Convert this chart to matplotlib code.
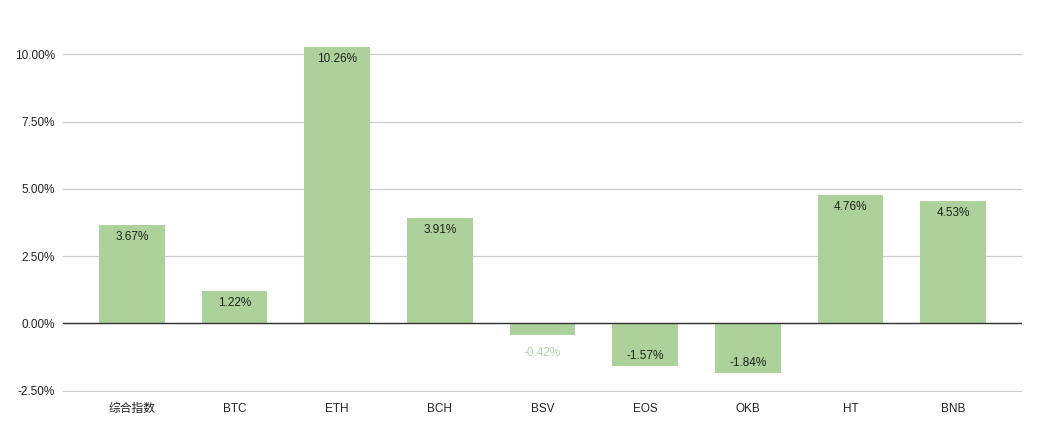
import matplotlib.pyplot as plt
from matplotlib.ticker import FuncFormatter

plt.rcParams['font.family'] = ['Liberation Sans', 'Noto Sans CJK SC', 'DejaVu Sans']

# --- DATA ---
categories = ['综合指数', 'BTC', 'ETH', 'BCH', 'BSV', 'EOS', 'OKB', 'HT', 'BNB']
changes = [3.67, 1.22, 10.26, 3.91, -0.42, -1.57, -1.84, 4.76, 4.53]
yticks = [-2.5, 0, 2.5, 5, 7.5, 10]

BAR_COLOR = '#acd19b'

fig = plt.figure(figsize=(10.38, 4.33), dpi=100)
ax = fig.add_axes([0.0607, 0.095, 0.924, 0.842])
ax.set_axisbelow(True)

x = range(len(categories))
ax.bar(x, changes, width=0.64, color=BAR_COLOR, zorder=2)

# value labels
for i, v in enumerate(changes):
    if v >= 0:
        ax.annotate(f"{v:.2f}%", (i, v), xytext=(0, -12), textcoords='offset pixels',
                    ha='center', va='center', fontsize=8.5, color='#222222', zorder=4)
    elif v > -1:
        ax.annotate(f"{v:.2f}%", (i, v), xytext=(0, -18), textcoords='offset pixels',
                    ha='center', va='center', fontsize=8.5, color='#b8d3a8', zorder=4)
    else:
        ax.annotate(f"{v:.2f}%", (i, v), xytext=(0, 10), textcoords='offset pixels',
                    ha='center', va='center', fontsize=8.5, color='#222222', zorder=4)

ax.set_xlim(-0.67, len(categories) - 0.33)
ax.set_ylim(-2.54, 11.0)
ax.set_yticks(yticks)
ax.yaxis.set_major_formatter(FuncFormatter(lambda v, p: f"{v:.2f}%"))
ax.set_xticks(list(x))
ax.set_xticklabels(categories)

ax.grid(axis='y', color='#cccccc', linewidth=0.9)
ax.axhline(0, color='#333333', linewidth=1.0, zorder=3)
for s in ax.spines.values():
    s.set_visible(False)
ax.tick_params(axis='both', length=0, labelsize=8.5, colors='#222222')
ax.tick_params(axis='x', pad=8)
ax.tick_params(axis='y', pad=6)

fig.savefig('out.png', dpi=100, facecolor='white')
